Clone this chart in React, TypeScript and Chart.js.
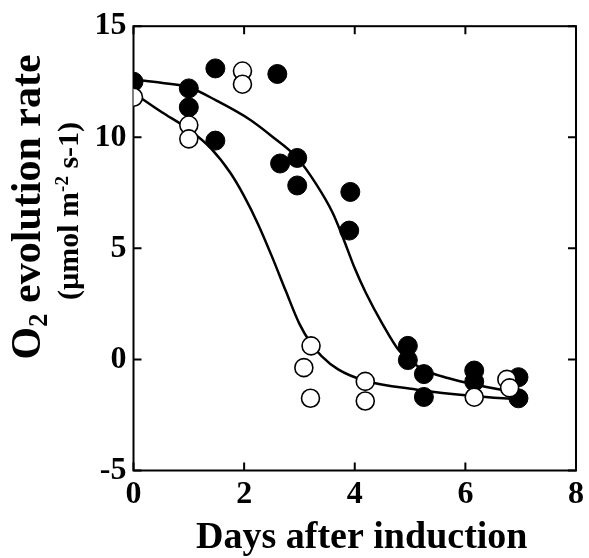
import React, { useEffect, useRef } from "react";
import { Chart, registerables } from "chart.js";
Chart.register(...registerables);

// Axis ticks
const xTickValues = [0, 2, 4, 6, 8];
const yTickValues = [-5, 0, 5, 10, 15];

// Filled circles
const filledDays = [0, 1, 1, 1.48, 1.48, 2.6, 2.65, 2.96, 2.96, 3.92, 3.9, 4.96, 4.96, 5.25, 5.25, 6.16, 6.16, 6.96, 6.96];
const filledRates = [12.5, 12.2, 11.35, 13.1, 9.85, 12.85, 8.82, 9.07, 7.83, 7.54, 5.8, 0.61, -0.03, -0.66, -1.69, -0.5, -1.0, -0.8, -1.75];

// Open circles
const openDays = [0, 1, 1, 1.97, 1.97, 3.21, 3.08, 3.2, 4.19, 4.19, 6.16, 6.75, 6.8];
const openRates = [11.8, 10.55, 9.93, 12.98, 12.39, 0.61, -0.37, -1.75, -0.99, -1.87, -1.7, -0.9, -1.28];

// Fitted curves
const upperCurveDays = [0, 0.5, 1.0, 1.5, 2.1, 2.5, 2.95, 3.3, 3.6, 3.8, 4.0, 4.2, 4.5, 4.8, 5.2, 5.7, 6.3, 6.95];
const upperCurveRates = [12.6, 12.45, 12.25, 11.65, 10.8, 10.05, 9.1, 7.9, 6.6, 5.4, 4.1, 3.0, 1.6, 0.4, -0.4, -0.85, -1.2, -1.5];
const lowerCurveDays = [0, 0.5, 1.0, 1.4, 1.75, 2.0, 2.25, 2.5, 2.75, 3.0, 3.2, 3.4, 3.7, 4.2, 5.1, 6.15, 6.95];
const lowerCurveRates = [12.0, 11.15, 10.35, 9.5, 8.4, 7.35, 6.1, 4.65, 3.1, 1.6, 0.75, 0.15, -0.45, -0.97, -1.35, -1.65, -1.8];

const zip = (xs: number[], ys: number[]) => xs.map((x, i) => ({ x, y: ys[i] }));

const SERIF = '"Liberation Serif", "Times New Roman", serif';

type Seg = { t: string; size: number; dy: number };

function drawRotated(ctx: CanvasRenderingContext2D, segs: Seg[], bx: number, cy: number) {
  ctx.save();
  ctx.translate(bx, cy);
  ctx.rotate(-Math.PI / 2);
  ctx.textBaseline = "alphabetic";
  ctx.textAlign = "left";
  ctx.fillStyle = "#000";
  let total = 0;
  const widths = segs.map((s) => {
    ctx.font = `bold ${s.size}px ${SERIF}`;
    const w = ctx.measureText(s.t).width;
    total += w;
    return w;
  });
  let x = -total / 2;
  segs.forEach((s, i) => {
    ctx.font = `bold ${s.size}px ${SERIF}`;
    ctx.fillText(s.t, x, s.dy);
    x += widths[i];
  });
  ctx.restore();
}

const framePlugin = {
  id: "frameTicks",
  beforeDatasetsDraw(chart: any) {
    const { ctx, chartArea: a, scales } = chart;
    ctx.save();
    ctx.strokeStyle = "#000";
    ctx.lineWidth = 2;
    ctx.strokeRect(a.left, a.top, a.right - a.left, a.bottom - a.top);
    const L = 8;
    ctx.beginPath();
    xTickValues.forEach((v) => {
      const px = scales.x.getPixelForValue(v);
      ctx.moveTo(px, a.bottom);
      ctx.lineTo(px, a.bottom - L);
      ctx.moveTo(px, a.top);
      ctx.lineTo(px, a.top + L);
    });
    yTickValues.forEach((v) => {
      const py = scales.y.getPixelForValue(v);
      ctx.moveTo(a.left, py);
      ctx.lineTo(a.left + L, py);
      ctx.moveTo(a.right, py);
      ctx.lineTo(a.right - L, py);
    });
    ctx.stroke();
    ctx.restore();
  },
  afterDraw(chart: any) {
    const { ctx, chartArea: a } = chart;
    ctx.save();
    ctx.fillStyle = "#000";
    ctx.font = `bold 38px ${SERIF}`;
    ctx.textAlign = "center";
    ctx.textBaseline = "alphabetic";
    ctx.fillText("Days after induction", (a.left + a.right) / 2 + 7, 548);
    ctx.restore();
    drawRotated(
      ctx,
      [
        { t: "O", size: 42, dy: 0 },
        { t: "2", size: 27, dy: 7 },
        { t: " evolution rate", size: 42, dy: 0 },
      ],
      40,
      207
    );
    drawRotated(
      ctx,
      [
        { t: "(µmol m", size: 30, dy: 0 },
        { t: "-2", size: 19, dy: -10 },
        { t: " s-1)", size: 30, dy: 0 },
      ],
      78,
      211
    );
  },
};

export default function App() {
  const ref = useRef<HTMLCanvasElement | null>(null);
  useEffect(() => {
    if (!ref.current) return;
    const tickFont = { family: SERIF, size: 32, weight: "bold" as const };
    const chart = new Chart(ref.current, {
      type: "scatter",
      data: {
        datasets: [
          {
            label: "upper fit",
            data: zip(upperCurveDays, upperCurveRates),
            showLine: true,
            cubicInterpolationMode: "monotone",
            borderColor: "#000",
            borderWidth: 2.5,
            pointRadius: 0,
            fill: false,
            order: 3,
          } as any,
          {
            label: "lower fit",
            data: zip(lowerCurveDays, lowerCurveRates),
            showLine: true,
            cubicInterpolationMode: "monotone",
            borderColor: "#000",
            borderWidth: 2.5,
            pointRadius: 0,
            fill: false,
            order: 3,
          } as any,
          {
            label: "filled",
            data: zip(filledDays, filledRates),
            pointRadius: 9.5,
            pointBackgroundColor: "#000",
            pointBorderColor: "#000",
            pointBorderWidth: 1,
            order: 2,
          },
          {
            label: "open",
            data: zip(openDays, openRates),
            pointRadius: 9,
            pointBackgroundColor: "#fff",
            pointBorderColor: "#000",
            pointBorderWidth: 1.6,
            order: 1,
          },
        ],
      },
      options: {
        animation: false,
        responsive: true,
        maintainAspectRatio: false,
        layout: { padding: { top: 19.5, right: 9, left: 0, bottom: 0 } },
        plugins: { legend: { display: false }, tooltip: { enabled: false } },
        scales: {
          x: {
            type: "linear",
            min: 0,
            max: 8,
            afterBuildTicks: (s: any) => {
              s.ticks = xTickValues.map((v) => ({ value: v }));
            },
            ticks: { font: tickFont, color: "#000", padding: 5 },
            grid: { display: false, drawTicks: false },
            border: { display: false },
            afterFit: (s: any) => {
              s.height = 87.5;
            },
          },
          y: {
            type: "linear",
            min: -5,
            max: 15,
            afterBuildTicks: (s: any) => {
              s.ticks = yTickValues.map((v) => ({ value: v }));
            },
            ticks: { font: tickFont, color: "#000", padding: 7 },
            grid: { display: false, drawTicks: false },
            border: { display: false },
            afterFit: (s: any) => {
              s.width = 133.5;
            },
          },
        },
      },
      plugins: [framePlugin],
    });
    return () => chart.destroy();
  }, []);
  return (
    <div style={{ position: "fixed", left: 0, top: 0, width: 589, height: 558, background: "#fff" }}>
      <canvas ref={ref} />
    </div>
  );
}
